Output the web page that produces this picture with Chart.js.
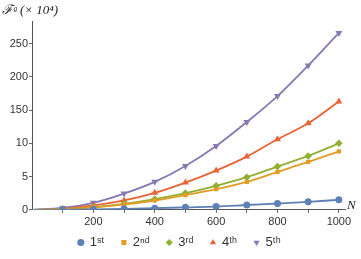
<!DOCTYPE html>
<html>
<head>
<meta charset="utf-8">
<script src="https://cdn.jsdelivr.net/npm/chart.js@4.4.1/dist/chart.umd.min.js"></script>
<style>
  html, body { margin: 0; padding: 0; background: #fff; }
  #wrap { width: 361px; height: 259px; }
</style>
</head>
<body>
<div id="wrap"><canvas id="chart"></canvas></div>
<script>
// Donnees
const nValues = [0, 100, 200, 300, 400, 500, 600, 700, 800, 900, 1000];
const first  = [0, 0.15, 0.6, 1.4, 2.4, 3.7, 4.8, 7.2, 9.5, 12, 15];
const second = [0, 0.9, 3.5, 8, 14, 22, 31, 42, 57, 72, 88];
const third  = [0, 1, 4, 9, 16, 25, 36, 49, 65, 81, 100];
const fourth = [0, 1.6, 6.5, 14, 25.5, 41, 59, 80, 106, 130, 163];
const fifth  = [0, 2.7, 10.5, 24.4, 42, 66, 96, 132, 171, 217, 266];

const seriesNames = ['1ˢᵗ', '2ⁿᵈ', '3ʳᵈ', '4ᵗʰ', '5ᵗʰ'];
const yTickValues = [0, 50, 100, 150, 200, 250];
const yTickLabels = ['0', '5', '10', '150', '200', '250'];
const xTickValues = [100, 200, 300, 400, 500, 600, 700, 800, 900, 1000];
const xTickLabels = ['', '200', '', '400', '', '600', '', '800', '', '1000'];

const colors = ['#5E81B5', '#E19C24', '#8FB032', '#EB6235', '#8778B3'];
const styles = ['circle', 'rect', 'rectRot', 'triangle', 'triangle'];
const rotations = [0, 0, 0, 0, 180];
const sizes = [3.5, 3, 3.8, 4, 4];

function makeDataset(i, values) {
    return {
        // espaces pour elargir la legende sans la rendre plus haute
        label: seriesNames[i] + (i < 4 ? '\u2002\u2002' : ''),
        data: nValues.map((n, k) => ({ x: n, y: values[k] })),
        borderColor: colors[i],
        backgroundColor: colors[i],
        borderWidth: 1.8,
        pointStyle: styles[i],
        pointRotation: rotations[i],
        pointRadius: nValues.map(n => n === 0 ? 0 : sizes[i]),
        pointBorderWidth: 0,
        cubicInterpolationMode: 'monotone',
        fill: false
    };
}

// Etiquette N au bout de l'axe + recentrage de la legende
const axisLabelPlugin = {
    id: 'axisLabel',
    afterLayout(chart) {
        if (chart.legend) {
            chart.legend.left += 6;
            chart.legend.right += 6;
        }
    },
    afterDraw(chart) {
        const ctx = chart.ctx;
        const area = chart.chartArea;
        ctx.save();
        ctx.fillStyle = '#222';
        ctx.font = 'italic 13px "Liberation Serif", serif';
        ctx.textAlign = 'left';
        ctx.textBaseline = 'alphabetic';
        ctx.fillText('N', area.right + 2, area.bottom - 1);
        ctx.restore();
    }
};

new Chart(document.getElementById('chart'), {
    type: 'line',
    data: {
        datasets: [
            makeDataset(0, first),
            makeDataset(1, second),
            makeDataset(2, third),
            makeDataset(3, fourth),
            makeDataset(4, fifth)
        ]
    },
    plugins: [axisLabelPlugin],
    options: {
        responsive: true,
        maintainAspectRatio: false,
        animation: false,
        layout: { padding: { left: 2, right: 16, top: 0, bottom: 0 } },
        plugins: {
            title: {
                display: true,
                text: 'ℱᵍ (× 10⁴)',
                align: 'start',
                color: '#222',
                font: { family: '"Liberation Serif", serif', size: 13, style: 'italic', weight: 'normal' },
                padding: { top: 3, bottom: 3 }
            },
            legend: {
                position: 'bottom',
                labels: {
                    usePointStyle: true,
                    boxWidth: 5,
                    boxHeight: 5,
                    padding: 4,
                    color: '#333',
                    font: { family: '"Liberation Sans", Arial, sans-serif', size: 13 }
                }
            },
            tooltip: { enabled: false }
        },
        scales: {
            x: {
                type: 'linear',
                min: 0,
                max: 1020,
                afterBuildTicks: axis => { axis.ticks = xTickValues.map(v => ({ value: v })); },
                ticks: {
                    autoSkip: false,
                    maxRotation: 0,
                    padding: 3,
                    color: '#333',
                    font: { family: '"Liberation Sans", Arial, sans-serif', size: 11 },
                    callback: (v) => xTickLabels[xTickValues.indexOf(v)]
                },
                grid: { drawOnChartArea: false, tickLength: 3, color: '#666' },
                border: { color: '#555', width: 1 }
            },
            y: {
                type: 'linear',
                min: 0,
                max: 283,
                afterBuildTicks: axis => { axis.ticks = yTickValues.map(v => ({ value: v })); },
                afterFit: axis => { axis.width = 30; },
                ticks: {
                    padding: 1,
                    color: '#333',
                    font: { family: '"Liberation Sans", Arial, sans-serif', size: 11 },
                    callback: (v) => yTickLabels[yTickValues.indexOf(v)]
                },
                grid: { drawOnChartArea: false, tickLength: 3, color: '#666' },
                border: { color: '#555', width: 1 }
            }
        }
    }
});
</script>
</body>
</html>
